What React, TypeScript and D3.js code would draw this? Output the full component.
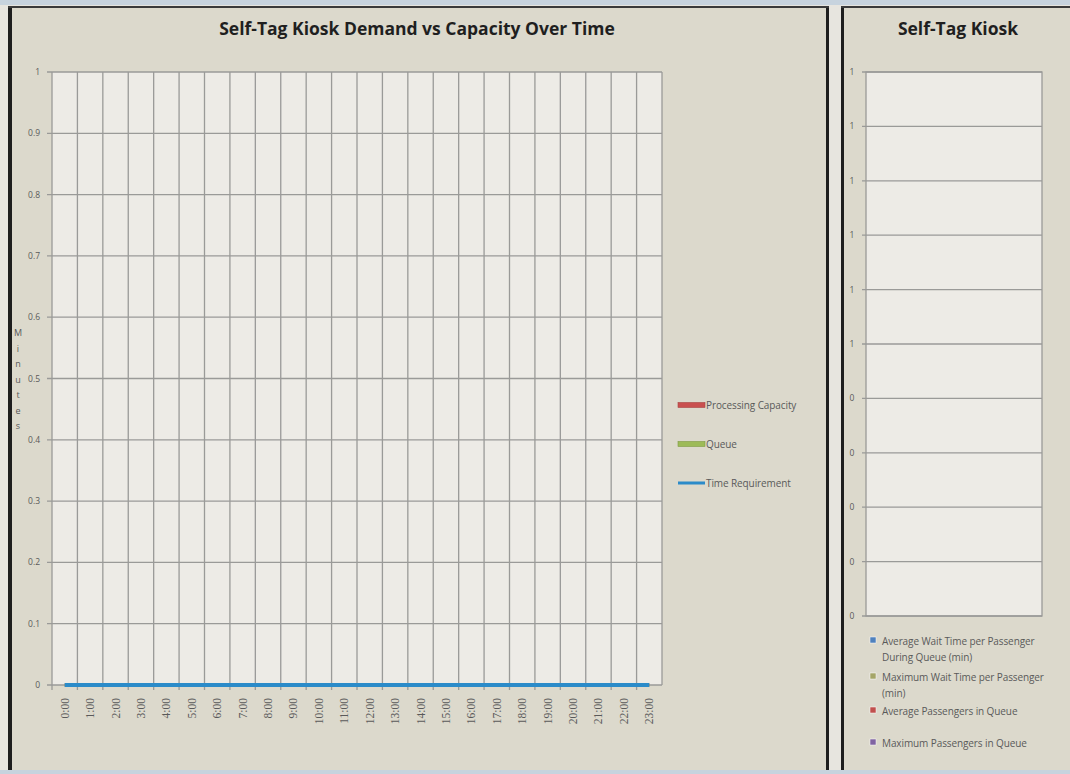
import React from 'react';
import * as d3 from 'd3';

// hours on the category axis
const hours = [
  '0:00', '1:00', '2:00', '3:00', '4:00', '5:00', '6:00', '7:00', '8:00', '9:00', '10:00', '11:00',
  '12:00', '13:00', '14:00', '15:00', '16:00', '17:00', '18:00', '19:00', '20:00', '21:00', '22:00', '23:00',
];

// series of the left chart (minutes)
const processingCapacity = [0, 0, 0, 0, 0, 0, 0, 0, 0, 0, 0, 0, 0, 0, 0, 0, 0, 0, 0, 0, 0, 0, 0, 0];
const queue = [0, 0, 0, 0, 0, 0, 0, 0, 0, 0, 0, 0, 0, 0, 0, 0, 0, 0, 0, 0, 0, 0, 0, 0];
const timeRequirement = [0, 0, 0, 0, 0, 0, 0, 0, 0, 0, 0, 0, 0, 0, 0, 0, 0, 0, 0, 0, 0, 0, 0, 0];

const leftSeriesNames = ['Processing Capacity', 'Queue', 'Time Requirement'];
const leftSeriesColors = ['#c9504f', '#9dbb58', '#2b8bc9'];

// right chart legend (no values plotted)
const rightSeriesNames = [
  ['Average Wait Time per Passenger', 'During Queue (min)'],
  ['Maximum Wait Time per Passenger', '(min)'],
  ['Average Passengers in Queue'],
  ['Maximum Passengers in Queue'],
];
const rightSeriesColors = ['#4f81bd', '#a5a568', '#c0504d', '#8064a2'];

const yDomain = [0, 1];
const yTicks = [0, 0.1, 0.2, 0.3, 0.4, 0.5, 0.6, 0.7, 0.8, 0.9, 1];

const PANEL_BG = '#dcd9cc';
const PLOT_BG = '#edebe6';
const GRID = '#9a9a98';
const LABEL = '#5a5a5a';

export default function App() {
  // left chart
  const lx = d3.scaleBand<string>().domain(hours).range([52, 662]);
  const ly = d3.scaleLinear().domain(yDomain).range([685, 72]);
  const line = d3.line<number>()
    .x((_, i) => (lx(hours[i]) as number) + lx.bandwidth() / 2)
    .y(d => ly(d));
  const series = [processingCapacity, queue, timeRequirement];

  // right chart
  const ry = d3.scaleLinear().domain(yDomain).range([616, 72]);
  const rx0 = 866, rx1 = 1042;

  const minutes = 'Minutes'.split('');

  return (
    <svg width={1070} height={774} style={{ position: 'absolute', left: 0, top: 0 }}
      fontFamily="'Open Sans', sans-serif">
      {/* page frame */}
      <rect x={0} y={0} width={1070} height={774} fill="#e7e5df" />
      <rect x={0} y={0} width={1070} height={5} fill="#c7d3de" />
      <rect x={0} y={770} width={1070} height={4} fill="#c7d3de" />
      <rect x={12} y={6} width={814} height={764} fill={PANEL_BG} />
      <rect x={844} y={6} width={226} height={764} fill={PANEL_BG} />
      <rect x={8} y={6} width={4} height={764} fill="#1e1e1e" />
      <rect x={826} y={6} width={3} height={764} fill="#1e1e1e" />
      <rect x={841} y={6} width={3} height={764} fill="#1e1e1e" />
      <rect x={8} y={6} width={821} height={2} fill="#3a3a3a" />
      <rect x={841} y={6} width={229} height={2} fill="#3a3a3a" />

      {/* ---------- left chart ---------- */}
      <text x={417} y={35} textAnchor="middle" fontSize={17.5} fontWeight="bold" fill="#1f1f1f">
        Self-Tag Kiosk Demand vs Capacity Over Time
      </text>
      <rect x={52} y={72} width={610} height={613} fill={PLOT_BG} />
      {hours.map((h, i) => (
        <line key={'v' + h} x1={(lx(h) as number) + lx.bandwidth()} x2={(lx(h) as number) + lx.bandwidth()}
          y1={72} y2={685 + (i < hours.length - 1 ? 5 : 0)} stroke={GRID} strokeWidth={1.3} />
      ))}
      <line x1={52} x2={52} y1={72} y2={690} stroke={GRID} strokeWidth={1.3} />
      {yTicks.map(t => (
        <g key={'ly' + t}>
          <line x1={47} x2={662} y1={ly(t)} y2={ly(t)} stroke={GRID} strokeWidth={1.3} />
          <text x={40} y={ly(t) + 3} textAnchor="end" fontSize={8.5} fill={LABEL}>{t}</text>
        </g>
      ))}
      {hours.map(h => {
        const cx = (lx(h) as number) + lx.bandwidth() / 2;
        return (
          <text key={'xl' + h} transform={`translate(${cx + 4},698) rotate(-90)`} textAnchor="end"
            fontSize={11.5} fontFamily="'Liberation Serif', serif" fill={LABEL}>{h}</text>
        );
      })}
      {minutes.map((c, i) => (
        <text key={'m' + i} x={18} y={336 + i * 15.5} textAnchor="middle" fontSize={9} fill={LABEL}>{c}</text>
      ))}
      {series.map((s, i) => (
        <path key={'s' + i} d={line(s) as string} fill="none" stroke={leftSeriesColors[i]} strokeWidth={i === 2 ? 4 : 3} />
      ))}
      {leftSeriesNames.map((n, i) => (
        <g key={'lg' + n}>
          <line x1={678} x2={705} y1={405 + i * 39} y2={405 + i * 39} stroke={leftSeriesColors[i]}
            strokeWidth={i < 2 ? 5 : 3} />
          {i < 2 && (
            <rect x={678} y={402.5 + i * 39} width={27} height={5} fill="none"
              stroke={i === 0 ? '#a94442' : '#7f9a44'} strokeWidth={0.6} />
          )}
          <text x={706} y={408.5 + i * 39} fontSize={10} letterSpacing={-0.1} fill={LABEL}>{n}</text>
        </g>
      ))}

      {/* ---------- right chart ---------- */}
      <text x={958} y={35} textAnchor="middle" fontSize={17.5} fontWeight="bold" fill="#1f1f1f">
        Self-Tag Kiosk
      </text>
      <rect x={rx0} y={72} width={rx1 - rx0} height={544} fill={PLOT_BG} stroke={GRID} strokeWidth={1.3} />
      {yTicks.map(t => (
        <g key={'ry' + t}>
          <line x1={862} x2={rx1} y1={ry(t)} y2={ry(t)} stroke={GRID} strokeWidth={1.3} />
          <text x={852} y={ry(t) + 3} textAnchor="middle" fontSize={8.5} fill={LABEL}>{Math.round(t)}</text>
        </g>
      ))}
      {(() => {
        let y = 645;
        const gaps = [36, 34, 32, 0];
        return rightSeriesNames.map((lines, i) => {
          const y0 = y;
          y += gaps[i];
          return (
            <g key={'rg' + i}>
              <rect x={870} y={y0 - 8} width={6} height={6} fill={rightSeriesColors[i]} stroke="#ffffff" strokeWidth={0.5} />
              {lines.map((t, j) => (
                <text key={t} x={882} y={y0 + j * 16} fontSize={10} letterSpacing={-0.1} fill={LABEL}>{t}</text>
              ))}
            </g>
          );
        });
      })()}
    </svg>
  );
}
